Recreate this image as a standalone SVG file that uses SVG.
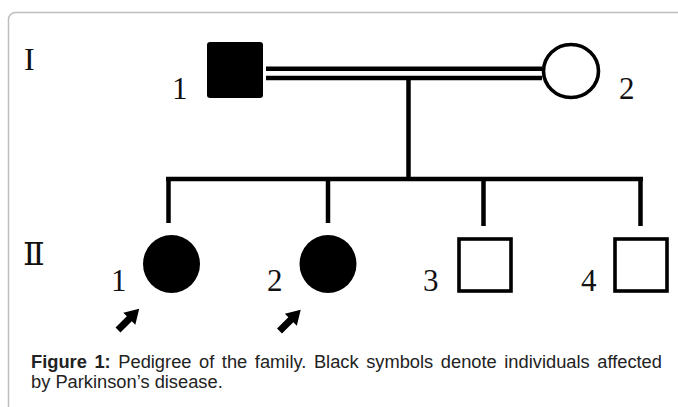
<svg xmlns="http://www.w3.org/2000/svg" xmlns:xlink="http://www.w3.org/1999/xlink" width="678" height="407" viewBox="0 0 678 407">
<style>
.frame{fill:#fff;stroke:#bdbdbd;stroke-width:1.5}
.line{stroke:#000;stroke-width:4.5;fill:none;stroke-linecap:butt}
.aff{fill:#000;stroke:none}
.una{fill:#fff;stroke:#000;stroke-width:3.6}
.gen{font-family:"Liberation Serif","DejaVu Serif",serif;font-size:32px;fill:#111}
.num{font-family:"Liberation Serif","DejaVu Serif",serif;font-size:31px;fill:#111}
.cap{font-family:"Liberation Sans",Arial,sans-serif;font-size:18.3px;fill:#222}
.capb{font-weight:bold}
</style>
<defs>
<path id="arrow" d="M0,-3.5 L16,-3.5 L16,-8.5 L30,0 L16,8.5 L16,3.5 L0,3.5 Z" fill="#000"/>
</defs>
<rect class="frame" x="8.5" y="12.5" width="700" height="420" rx="7"/>
<g id="connectors">
<line class="line" x1="266" y1="68.7" x2="542" y2="68.7" stroke-width="4"/>
<line class="line" x1="266" y1="78" x2="542" y2="78" stroke-width="4"/>
<line class="line" x1="408.5" y1="78" x2="408.5" y2="179"/>
<line class="line" x1="166" y1="179" x2="643" y2="179"/>
<line class="line" x1="168.5" y1="177" x2="168.5" y2="223"/>
<line class="line" x1="328" y1="177" x2="328" y2="223"/>
<line class="line" x1="483.5" y1="177" x2="483.5" y2="226"/>
<line class="line" x1="640.5" y1="177" x2="640.5" y2="226"/>
</g>
<g id="gen-I"><text class="gen" x="24" y="70">I</text></g>
<g id="gen-II"><text class="gen" x="23" y="265">Ⅱ</text></g>
<g id="I-1">
<rect class="aff" x="207" y="42" width="56" height="56" rx="3"/>
<text class="num" x="172" y="99">1</text>
</g>
<g id="I-2">
<ellipse class="una" cx="571" cy="71" rx="27.5" ry="26.5"/>
<text class="num" x="619" y="99">2</text>
</g>
<g id="II-1">
<ellipse class="aff" cx="171.5" cy="264" rx="28.5" ry="29"/>
<text class="num" x="111" y="291">1</text>
<use xlink:href="#arrow" href="#arrow" transform="translate(118,330) rotate(-45)"/>
</g>
<g id="II-2">
<ellipse class="aff" cx="328" cy="264" rx="28.5" ry="29"/>
<text class="num" x="267" y="291">2</text>
<use xlink:href="#arrow" href="#arrow" transform="translate(279.5,331) rotate(-45)"/>
</g>
<g id="II-3">
<rect class="una" x="459" y="239" width="52" height="52"/>
<text class="num" x="423" y="291">3</text>
</g>
<g id="II-4">
<rect class="una" x="615" y="239" width="52" height="52"/>
<text class="num" x="581" y="291">4</text>
</g>
<g id="caption">
<text class="cap" x="31" y="368" word-spacing="2.5"><tspan class="capb">Figure 1:</tspan> Pedigree of the family. Black symbols denote individuals affected</text>
<text class="cap" x="31" y="388">by Parkinson’s disease.</text>
</g>
</svg>
